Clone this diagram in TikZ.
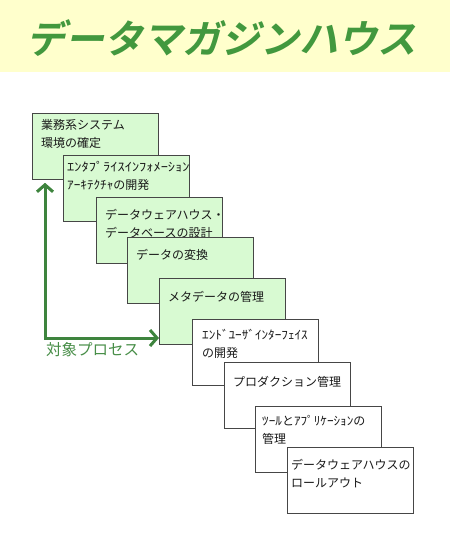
\documentclass[tikz,border=0pt]{standalone}
\usepackage{fontspec}
\setmainfont{Noto Sans CJK JP}
\newfontfamily\titlefont[FakeSlant=0.22]{Noto Sans CJK JP Bold}
\newfontfamily\hw[FakeStretch=1.1]{Noto Sans CJK JP}
\newfontfamily\hwb[FakeStretch=1.2]{Noto Sans CJK JP}
\usetikzlibrary{arrows.meta}
\definecolor{bandyellow}{RGB}{255,255,204}
\definecolor{titlegreen}{RGB}{66,152,62}
\definecolor{arrowgreen}{RGB}{62,132,62}
\definecolor{labelgreen}{RGB}{72,142,72}
\definecolor{boxgreen}{RGB}{216,250,210}
\definecolor{boxline}{RGB}{70,70,70}
\tikzset{
  stagebox/.style={draw=boxline, line width=0.8pt, minimum width=126pt,
    minimum height=66pt, inner sep=0pt, anchor=north west},
  greenbox/.style={stagebox, fill=boxgreen},
  whitebox/.style={stagebox, fill=white},
  stagetext/.style={anchor=north west, inner sep=0pt, align=left,
    font=\fontsize{12}{17.5}\selectfont, text=black!90},
  garrow/.style={draw=arrowgreen, line width=3pt, line join=miter,
    {Straight Barb[length=7pt,width=16pt]}-{Straight Barb[length=7pt,width=16pt]}},
}
\begin{document}
\begin{tikzpicture}[x=1pt,y=-1pt]
\useasboundingbox (0,0) rectangle (450,550);
\fill[bandyellow] (0,0) rectangle (450,72);
\node[font=\titlefont\fontsize{39}{41}\selectfont, text=titlegreen, inner sep=0pt]
  (title) at (222,38) {データマガジンハウス};

\node[greenbox] (b1) at (32,113) {};
\node[stagetext] (t1) at ([shift={(9,6.5)}]b1.north west) {業務系システム\\環境の確定};
\node[greenbox] (b2) at (63,155) {};
\node[stagetext] (t2) at ([shift={(4,6.5)}]b2.north west) {{\hwb ｴﾝﾀﾌﾟﾗｲｽｲﾝﾌｫﾒｰｼｮﾝ}\\{\hw ｱｰｷﾃｸﾁｬ}の開発};
\node[greenbox] (b3) at (96,197) {};
\node[stagetext] (t3) at ([shift={(9,12.5)}]b3.north west) {データウェアハウス・\\データベースの設計};
\node[greenbox] (b4) at (127,237) {};
\node[stagetext] (t4) at ([shift={(9,12.5)}]b4.north west) {データの変換};
\node[greenbox] (b5) at (159,278) {};
\node[stagetext] (t5) at ([shift={(9,13.5)}]b5.north west) {メタデータの管理};
\node[whitebox] (b6) at (192,319) {};
\node[stagetext] (t6) at ([shift={(10,10.5)}]b6.north west) {{\hw ｴﾝﾄﾞﾕｰｻﾞｲﾝﾀｰﾌｪｲｽ}\\の開発};
\node[whitebox] (b7) at (224,362) {};
\node[stagetext] (t7) at ([shift={(9,14.5)}]b7.north west) {プロダクション管理};
\node[whitebox] (b8) at (255,406) {};
\node[stagetext] (t8) at ([shift={(7,9.5)}]b8.north west) {{\hw ﾂｰﾙ}と{\hw ｱﾌﾟﾘｹｰｼｮﾝ}の\\管理};
\node[whitebox] (b9) at (287,447) {};
\node[stagetext] (t9) at ([shift={(4,12.5)}]b9.north west) {データウェアハウスの\\ロールアウト};

\coordinate (c) at (45,338);
\draw[garrow, shorten <=3pt] (c |- b1.south) -- (c) -- (c -| b5.west);
\node[anchor=west, inner sep=0pt, text=labelgreen, font=\fontsize{15.5}{17}\selectfont]
  (lab) at (46,350) {対象プロセス};
\end{tikzpicture}
\end{document}
